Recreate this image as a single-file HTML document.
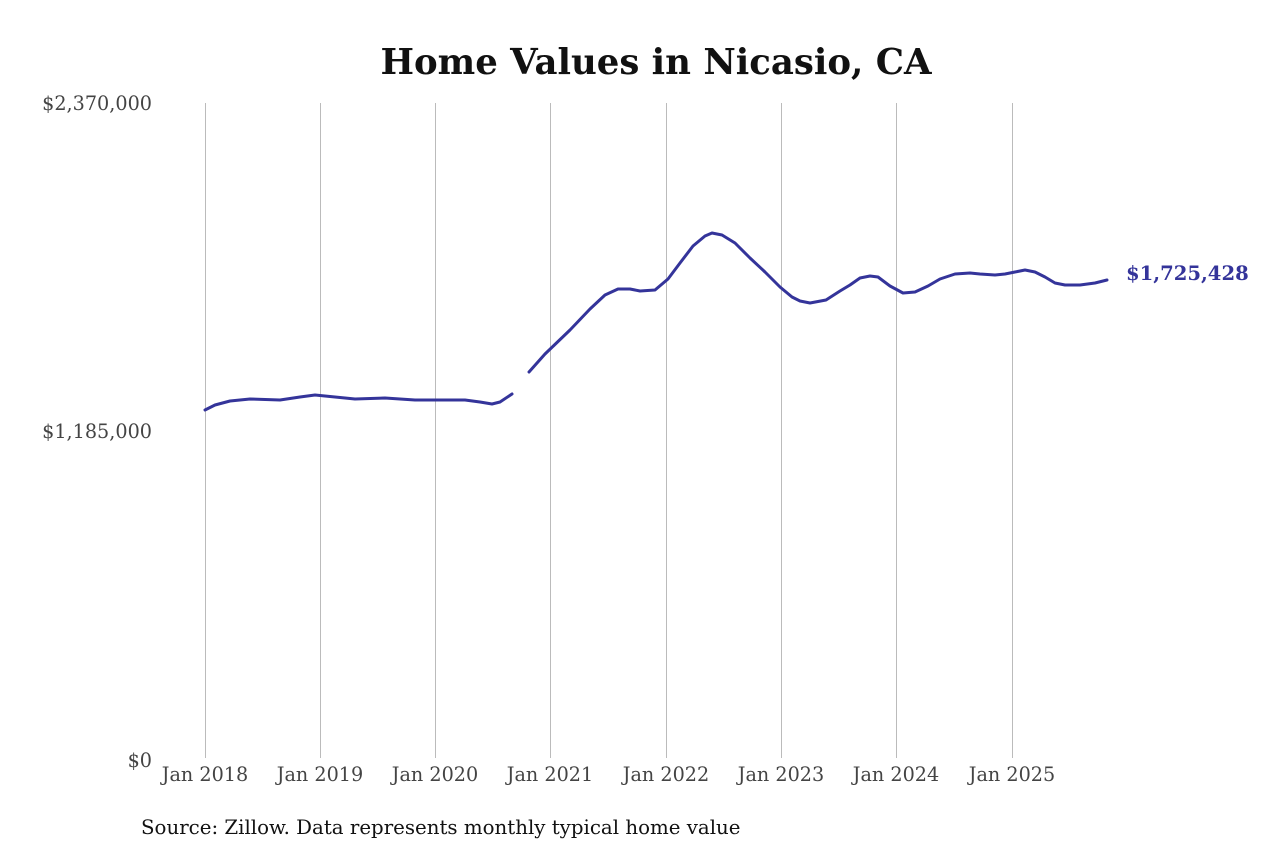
<!DOCTYPE html>
<html><head><style>
body{margin:0;background:#fff;}
svg text{font-family:"DejaVu Serif","Liberation Serif",serif;}
</style></head><body>
<svg width="1280" height="853" viewBox="0 0 1280 853" xmlns="http://www.w3.org/2000/svg">
<rect width="1280" height="853" fill="#fff"/>
<text x="656" y="74" text-anchor="middle" font-size="35.5" font-weight="bold" fill="#111">Home Values in Nicasio, CA</text>
<g stroke="#bbb" stroke-width="1">
<line x1="205.5" y1="103" x2="205.5" y2="758"/>
<line x1="320.5" y1="103" x2="320.5" y2="758"/>
<line x1="435.5" y1="103" x2="435.5" y2="758"/>
<line x1="550.5" y1="103" x2="550.5" y2="758"/>
<line x1="666.5" y1="103" x2="666.5" y2="758"/>
<line x1="781.5" y1="103" x2="781.5" y2="758"/>
<line x1="896.5" y1="103" x2="896.5" y2="758"/>
<line x1="1012.5" y1="103" x2="1012.5" y2="758"/>
</g>
<g font-size="19.2" fill="#444" text-anchor="end">
<text x="152" y="110">$2,370,000</text>
<text x="152" y="438">$1,185,000</text>
<text x="152" y="767">$0</text>
</g>
<g font-size="19.2" fill="#444" text-anchor="middle">
<text x="205" y="781">Jan 2018</text>
<text x="320" y="781">Jan 2019</text>
<text x="435" y="781">Jan 2020</text>
<text x="550" y="781">Jan 2021</text>
<text x="666" y="781">Jan 2022</text>
<text x="781" y="781">Jan 2023</text>
<text x="896" y="781">Jan 2024</text>
<text x="1012" y="781">Jan 2025</text>
</g>
<g fill="none" stroke="#34349a" stroke-width="3" stroke-linejoin="round" stroke-linecap="round">
<polyline points="205,410 215,405 230,401 250,399 280,400 300,397 315,395 325,396 355,399 385,398 415,400 440,400 465,400 480,402 492,404 500,402 512,394"/>
<polyline points="529,372 545,354 570,330 590,309 605,295 618,289 630,289 640,291 655,290 668,279 680,263 693,246 705,236 712,233 722,235 735,243 750,258 765,272 780,287 792,297 800,301 810,303 826,300 840,291 850,285 860,278 870,276 878,277 890,286 903,293 915,292 928,286 940,279 955,274 970,273 980,274 995,275 1005,274 1015,272 1025,270 1035,272 1045,277 1055,283 1065,285 1080,285 1095,283 1107,280"/>
</g>
<text x="1126" y="280" font-size="19.6" font-weight="bold" fill="#34349a">$1,725,428</text>
<text x="141" y="834" font-size="19.8" fill="#111">Source: Zillow. Data represents monthly typical home value</text>
</svg>
</body></html>
